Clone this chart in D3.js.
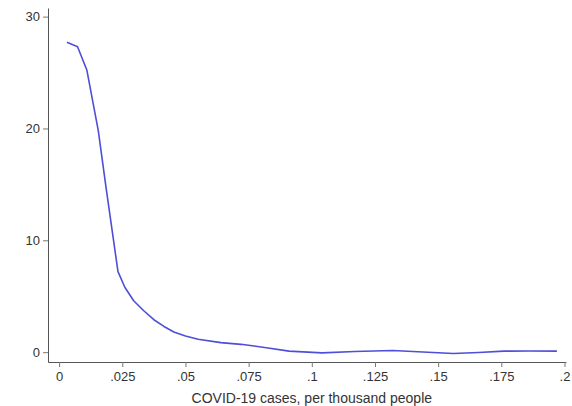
<!DOCTYPE html>
<html>
<head>
<meta charset="utf-8">
<script src="https://cdn.jsdelivr.net/npm/d3@7"></script>
<style>
    body { margin: 0; background: #fff; }
    text { font-family: "Liberation Sans", Arial, sans-serif; }
</style>
</head>
<body>
<svg id="chart" width="572" height="406"></svg>
<script>
// values
const casesX = [.0031, .0073, .011, .0155, .0187, .0233, .026, .0295, .0335, .0375, .0415, .0454, .05, .055,
    .064, .072, .082, .091, .104, .117, .132, .148, .156, .166, .176, .186, .197];
const densityY = [27.7, 27.3, 25.2, 19.8, 14.5, 7.2, 5.8, 4.6, 3.7, 2.9, 2.3, 1.8, 1.45, 1.16,
    0.85, 0.7, 0.4, 0.09, -0.06, 0.06, 0.15, -0.03, -0.12, -0.03, 0.09, 0.1, 0.09];
const xTicks = [0, .025, .05, .075, .1, .125, .15, .175, .2];
const yTicks = [0, 10, 20, 30];
const xTitle = "COVID-19 cases, per thousand people";

const svg = d3.select("#chart");
const plot = {left: 48, right: 566, top: 8, bottom: 362};

const x = d3.scaleLinear().domain([-0.0044, 0.2006]).range([plot.left, plot.right]);
const y = d3.scaleLinear().domain([-0.88, 30.77]).range([plot.bottom, plot.top]);

// stata style labels: drop the leading zero
const fmt = d => d === 0 ? "0" : String(d).replace(/^0\./, ".");

const gx = svg.append("g")
    .attr("transform", `translate(0,${plot.bottom})`)
    .call(d3.axisBottom(x).tickValues(xTicks).tickFormat(fmt).tickSize(5).tickPadding(5).tickSizeOuter(0));
gx.select(".domain").attr("stroke", "#555");
gx.selectAll(".tick line").attr("stroke", "#777");
gx.selectAll("text").attr("fill", "#333").style("font-size", "13px");

const gy = svg.append("g")
    .attr("transform", `translate(${plot.left},0)`)
    .call(d3.axisLeft(y).tickValues(yTicks).tickFormat(fmt).tickSize(5).tickPadding(3).tickSizeOuter(0));
gy.select(".domain").attr("stroke", "#555");
gy.selectAll(".tick line").attr("stroke", "#777");
gy.selectAll("text").attr("fill", "#333").style("font-size", "13px");

svg.append("text")
    .attr("x", (x(0) + x(0.2)) / 2)
    .attr("y", 403)
    .attr("text-anchor", "middle")
    .attr("fill", "#333")
    .style("font-size", "14px")
    .text(xTitle);

const line = d3.line()
    .x((d, i) => x(casesX[i]))
    .y(d => y(d))
    .curve(d3.curveLinear);

svg.append("path")
    .datum(densityY)
    .attr("fill", "none")
    .attr("stroke", "#4e4ed8")
    .attr("stroke-width", 1.6)
    .attr("stroke-linejoin", "round")
    .attr("d", line);
</script>
</body>
</html>
